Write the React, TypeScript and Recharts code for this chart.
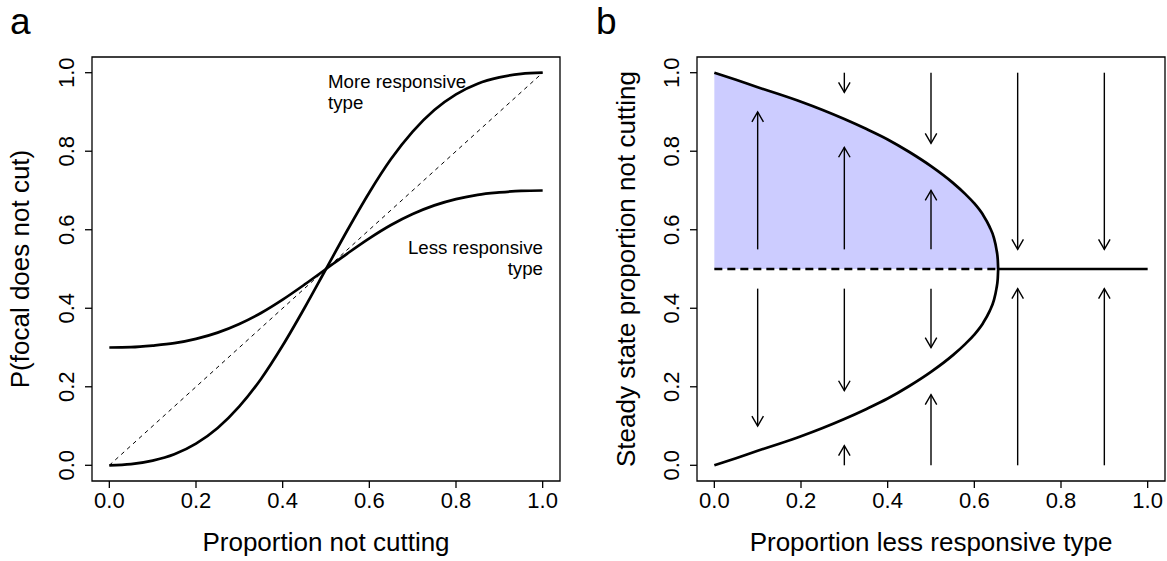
import React from 'react'
import { ComposedChart, Line, Area, XAxis, YAxis, ReferenceArea, ReferenceLine } from 'recharts'

const FONT = '"Liberation Sans", Arial, Helvetica, sans-serif'

// panel a
const propNotCutting = [0, 0.05, 0.1, 0.15, 0.2, 0.25, 0.3, 0.35, 0.4, 0.45, 0.5, 0.55, 0.6, 0.65, 0.7, 0.75, 0.8, 0.85, 0.9, 0.95, 1]
const moreResponsive = [0, 0.003, 0.012, 0.028, 0.055, 0.095, 0.15, 0.22, 0.305, 0.4, 0.5, 0.6, 0.695, 0.78, 0.85, 0.905, 0.945, 0.972, 0.988, 0.997, 1]
const lessResponsive = [0.3, 0.301, 0.305, 0.311, 0.322, 0.338, 0.36, 0.388, 0.422, 0.46, 0.5, 0.54, 0.578, 0.612, 0.64, 0.662, 0.678, 0.689, 0.695, 0.699, 0.7]
const diagX = [0, 1]
const diagY = [0, 1]

// panel b
const branchX = [0, 0.05, 0.1, 0.15, 0.2, 0.25, 0.3, 0.35, 0.4, 0.45, 0.5, 0.55, 0.58, 0.6, 0.62, 0.635, 0.645, 0.651, 0.654, 0.655]
const upperY = [1, 0.982, 0.963, 0.945, 0.926, 0.905, 0.882, 0.857, 0.83, 0.798, 0.762, 0.72, 0.69, 0.667, 0.638, 0.608, 0.58, 0.55, 0.525, 0.5]
const lowerY = [0, 0.018, 0.037, 0.055, 0.074, 0.095, 0.118, 0.143, 0.17, 0.202, 0.238, 0.28, 0.31, 0.333, 0.362, 0.392, 0.42, 0.45, 0.475, 0.5]
const tipX = 0.655
const midY = 0.5

const arrowX = [0.1, 0.1, 0.3, 0.3, 0.3, 0.3, 0.5, 0.5, 0.5, 0.5, 0.7, 0.7, 0.9, 0.9]
const arrowFrom = [0.55, 0.45, 1.0, 0.55, 0.45, 0.0, 1.0, 0.55, 0.45, 0.0, 1.0, 0.0, 1.0, 0.0]
const arrowTo = [0.9, 0.1, 0.95, 0.81, 0.19, 0.05, 0.82, 0.7, 0.3, 0.18, 0.55, 0.45, 0.55, 0.45]

const ticks = [0, 0.2, 0.4, 0.6, 0.8, 1]
const domain: [number, number] = [-0.04, 1.04]

const curveA = propNotCutting.map((x, i) => ({ x, more: moreResponsive[i], less: lessResponsive[i] }))
const diagData = diagX.map((x, i) => ({ x, y: diagY[i] }))
const upperData = branchX.map((x, i) => ({ x, y: upperY[i] }))
const lowerData = branchX.map((x, i) => ({ x, y: lowerY[i] }))
const dashedMid = [{ x: 0, y: midY }, { x: tipX, y: midY }]
const solidMid = [{ x: tipX, y: midY }, { x: 1, y: midY }]

function XTick({ x, y, payload }: any) {
  return (
    <text x={x} y={y + 20} textAnchor="middle" fontSize={22} fontFamily={FONT} fill="#000">
      {Number(payload.value).toFixed(1)}
    </text>
  )
}

function YTick({ x, y, payload }: any) {
  const tx = x - 11
  return (
    <text x={tx} y={y} textAnchor="middle" fontSize={22} fontFamily={FONT} fill="#000" transform={`rotate(-90, ${tx}, ${y})`}>
      {Number(payload.value).toFixed(1)}
    </text>
  )
}

function ArrowShape({ x1, y1, x2, y2 }: any) {
  const dx = x1 - x2
  const dy = y1 - y2
  const len = Math.sqrt(dx * dx + dy * dy) || 1
  const ux = dx / len
  const uy = dy / len
  const L = 11.5
  const a = Math.PI / 6
  const ax = x2 + L * (ux * Math.cos(a) - uy * Math.sin(a))
  const ay = y2 + L * (ux * Math.sin(a) + uy * Math.cos(a))
  const bx = x2 + L * (ux * Math.cos(-a) - uy * Math.sin(-a))
  const by = y2 + L * (ux * Math.sin(-a) + uy * Math.cos(-a))
  return (
    <g>
      <line x1={x1} y1={y1} x2={x2} y2={y2} stroke="#000" strokeWidth={1.4} />
      <polyline points={`${ax},${ay} ${x2},${y2} ${bx},${by}`} fill="none" stroke="#000" strokeWidth={1.4} />
    </g>
  )
}

function PanelA() {
  return (
    <ComposedChart width={583} height={561} margin={{ top: 57, right: 23, bottom: 0, left: 0 }}>
      <XAxis type="number" dataKey="x" domain={domain} ticks={ticks} allowDataOverflow height={80}
        axisLine={false} tickSize={7} tickMargin={0} tickLine={{ stroke: '#000', strokeWidth: 1.3 }} tick={<XTick />} />
      <YAxis type="number" domain={domain} ticks={ticks} allowDataOverflow width={92}
        axisLine={false} tickSize={7} tickMargin={0} tickLine={{ stroke: '#000', strokeWidth: 1.3 }} tick={<YTick />} />
      <ReferenceArea x1={-0.04} x2={1.04} y1={-0.04} y2={1.04} ifOverflow="visible" stroke="#000" strokeWidth={1.3} fill="none" fillOpacity={0} />
      <Line data={diagData} dataKey="y" type="linear" stroke="#000" strokeWidth={1} strokeDasharray="4 4" dot={false} activeDot={false} isAnimationActive={false} />
      <Line data={curveA} dataKey="more" type="monotone" stroke="#000" strokeWidth={2.7} dot={false} activeDot={false} isAnimationActive={false} />
      <Line data={curveA} dataKey="less" type="monotone" stroke="#000" strokeWidth={2.7} dot={false} activeDot={false} isAnimationActive={false} />
    </ComposedChart>
  )
}

function PanelB() {
  return (
    <ComposedChart width={584} height={561} margin={{ top: 57, right: 2, bottom: 0, left: 0 }}>
      <XAxis type="number" dataKey="x" domain={domain} ticks={ticks} allowDataOverflow height={80}
        axisLine={false} tickSize={7} tickMargin={0} tickLine={{ stroke: '#000', strokeWidth: 1.3 }} tick={<XTick />} />
      <YAxis type="number" domain={domain} ticks={ticks} allowDataOverflow width={114}
        axisLine={false} tickSize={7} tickMargin={0} tickLine={{ stroke: '#000', strokeWidth: 1.3 }} tick={<YTick />} />
      <Area data={upperData} dataKey="y" type="monotone" baseValue={midY} fill="#ccccff" fillOpacity={1} stroke="none" dot={false} activeDot={false} isAnimationActive={false} />
      <ReferenceArea x1={-0.04} x2={1.04} y1={-0.04} y2={1.04} ifOverflow="visible" stroke="#000" strokeWidth={1.3} fill="none" fillOpacity={0} />
      {arrowX.map((x, i) => (
        <ReferenceLine key={i} segment={[{ x, y: arrowFrom[i] }, { x, y: arrowTo[i] }]} ifOverflow="visible" shape={ArrowShape} />
      ))}
      <Line data={dashedMid} dataKey="y" type="linear" stroke="#000" strokeWidth={2.7} strokeDasharray="8 5" dot={false} activeDot={false} isAnimationActive={false} />
      <Line data={solidMid} dataKey="y" type="linear" stroke="#000" strokeWidth={2.7} dot={false} activeDot={false} isAnimationActive={false} />
      <Line data={upperData} dataKey="y" type="monotone" stroke="#000" strokeWidth={2.7} dot={false} activeDot={false} isAnimationActive={false} />
      <Line data={lowerData} dataKey="y" type="monotone" stroke="#000" strokeWidth={2.7} dot={false} activeDot={false} isAnimationActive={false} />
    </ComposedChart>
  )
}

export default function App() {
  return (
    <div style={{ position: 'absolute', left: 0, top: 0, width: 1167, height: 561, background: '#fff' }}>
      <div style={{ position: 'absolute', left: 0, top: 0 }}>
        <PanelA />
      </div>
      <div style={{ position: 'absolute', left: 583, top: 0 }}>
        <PanelB />
      </div>
      <svg width={1167} height={561} style={{ position: 'absolute', left: 0, top: 0, pointerEvents: 'none' }} fontFamily={FONT}>
        <text x={10} y={34} fontSize={37}>a</text>
        <text x={596} y={34} fontSize={37}>b</text>
        <text x={326} y={551} fontSize={26} textAnchor="middle">Proportion not cutting</text>
        <text x={931} y={551} fontSize={26} textAnchor="middle">Proportion less responsive type</text>
        <text x={29} y={269} fontSize={26} textAnchor="middle" transform="rotate(-90, 29, 269)">P(focal does not cut)</text>
        <text x={635} y={269} fontSize={26} textAnchor="middle" transform="rotate(-90, 635, 269)">Steady state proportion not cutting</text>
        <text x={328} y={88} fontSize={18.7}>More responsive</text>
        <text x={328} y={109} fontSize={18.7}>type</text>
        <text x={543} y={254} fontSize={18.7} textAnchor="end">Less responsive</text>
        <text x={543} y={275} fontSize={18.7} textAnchor="end">type</text>
      </svg>
    </div>
  )
}
